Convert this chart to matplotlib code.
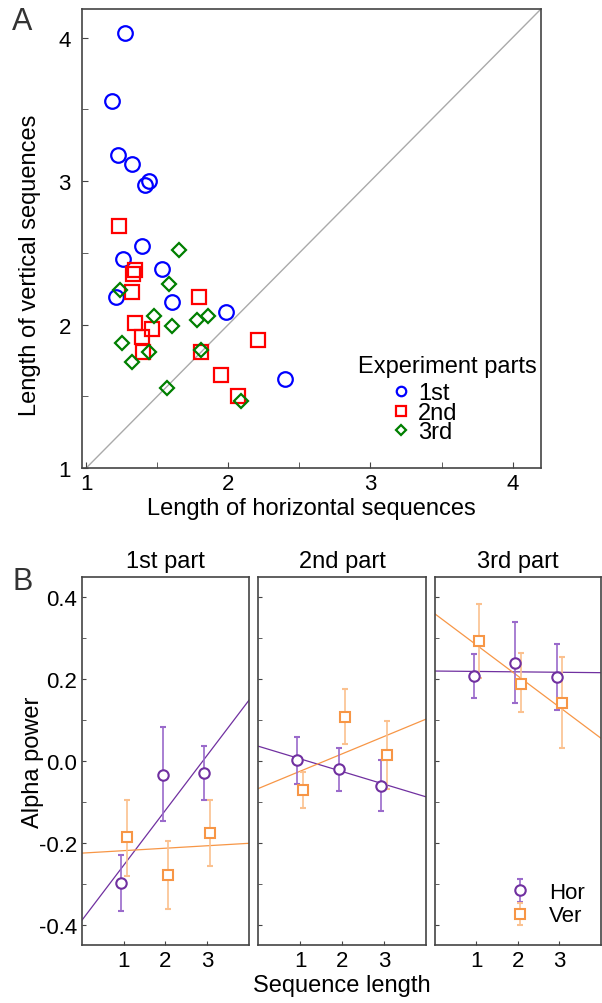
import numpy as np
import matplotlib
matplotlib.use('Agg')
import matplotlib.pyplot as plt

plt.rcParams['font.family'] = ['Liberation Sans', 'DejaVu Sans']

# ---- panel A: mean sequence lengths ----
hor_1st = [1.27, 1.18, 1.22, 1.32, 1.44, 1.41, 1.39, 1.26, 1.53, 1.21, 1.60, 1.98, 2.40]
ver_1st = [4.03, 3.56, 3.18, 3.12, 3.00, 2.97, 2.55, 2.46, 2.39, 2.19, 2.16, 2.09, 1.62]
hor_2nd = [1.23, 1.34, 1.33, 1.32, 1.79, 1.34, 1.46, 1.39, 1.40, 1.81, 2.21, 1.95, 2.07]
ver_2nd = [2.69, 2.38, 2.35, 2.23, 2.19, 2.01, 1.97, 1.91, 1.81, 1.81, 1.89, 1.65, 1.50]
hor_3rd = [1.65, 1.58, 1.24, 1.48, 1.60, 1.78, 1.86, 1.25, 1.44, 1.32, 1.81, 1.57, 2.09]
ver_3rd = [2.52, 2.28, 2.24, 2.06, 1.99, 2.03, 2.06, 1.87, 1.81, 1.74, 1.82, 1.56, 1.47]

# ---- panel B: alpha power ----
seq_len = np.array([1, 2, 3])
part_titles = ['1st part', '2nd part', '3rd part']
hor_mean = [[-0.298, -0.034, -0.029], [0.002, -0.019, -0.060], [0.208, 0.240, 0.206]]
hor_hi = [[-0.230, 0.082, 0.036], [0.058, 0.032, 0.002], [0.262, 0.339, 0.286]]
hor_lo = [[-0.368, -0.148, -0.095], [-0.056, -0.073, -0.122], [0.153, 0.141, 0.124]]
ver_mean = [[-0.187, -0.278, -0.175], [-0.070, 0.107, 0.015], [0.293, 0.189, 0.141]]
ver_hi = [[-0.095, -0.196, -0.095], [-0.027, 0.175, 0.099], [0.383, 0.264, 0.255]]
ver_lo = [[-0.282, -0.361, -0.257], [-0.114, 0.041, -0.068], [0.204, 0.119, 0.032]]

purple = '#7030a0'
purple_err = '#9a6acb'
orange = '#f79646'
orange_err = '#fbc18f'
spine_col = '#444444'

fig = plt.figure(figsize=(6.02, 10.04), dpi=100)

# panel A
ax = fig.add_axes([0.1362, 0.5329, 0.7625, 0.4572])
ax.axline((1, 1), slope=1, color='#aaaaaa', lw=1, zorder=1)
ax.plot(hor_1st, ver_1st, 'o', ms=10.5, mfc='none', mec='#0000ff', mew=1.6, label='1st', zorder=3)
ax.plot(hor_2nd, ver_2nd, 's', ms=10.5, mfc='none', mec='#ff0000', mew=1.6, label='2nd', zorder=3)
ax.plot(hor_3rd, ver_3rd, 'D', ms=7.5, mfc='none', mec='#007f00', mew=1.6, label='3rd', zorder=3)
ax.set_xlim(0.97, 4.2)
ax.set_ylim(1.0, 4.2)
ax.set_xticks([1, 2, 3, 4])
ax.set_yticks([1, 2, 3, 4])
ax.set_xticks(np.arange(1.5, 4.5, 1), minor=True)
ax.set_yticks(np.arange(1.5, 4.5, 1), minor=True)
ax.tick_params(which='both', direction='in', length=4, labelsize=16, color=spine_col)
ax.tick_params(axis='y', pad=8)
ax.set_xlabel('Length of horizontal sequences', fontsize=17, labelpad=2)
ax.set_ylabel('Length of vertical sequences', fontsize=17)
ax.yaxis.set_label_coords(-0.089, 0.444)
for s in ax.spines.values():
    s.set_color(spine_col)
    s.set_linewidth(1.2)
ax.text(0.601, 0.222, 'Experiment parts', transform=ax.transAxes, fontsize=17, va='center', ha='left')
ax.legend(loc='upper left', bbox_to_anchor=(0.669, 0.187), frameon=False, fontsize=17,
          labelspacing=-0.1, handletextpad=0.23, handlelength=1.0, borderpad=0,
          borderaxespad=0, markerscale=0.65)
fig.text(0.02, 0.978, 'A', fontsize=22, color='#333333', va='center')

# panel B
lefts = [0.1362, 0.4286, 0.7226]
widths = [0.2774, 0.279, 0.2757]
xfit = np.array([0, 4])
for i in range(3):
    axb = fig.add_axes([lefts[i], 0.0578, widths[i], 0.3665])
    hm = np.array(hor_mean[i])
    vm = np.array(ver_mean[i])
    # regression lines
    ph = np.polyfit(seq_len, hm, 1)
    pv = np.polyfit(seq_len, vm, 1)
    axb.plot(xfit, np.polyval(ph, xfit), color=purple, lw=0.9, zorder=2)
    axb.plot(xfit, np.polyval(pv, xfit), color=orange, lw=0.9, zorder=2)
    herr = [hm - np.array(hor_lo[i]), np.array(hor_hi[i]) - hm]
    verr = [vm - np.array(ver_lo[i]), np.array(ver_hi[i]) - vm]
    eh = axb.errorbar(seq_len - 0.07, hm, yerr=herr, fmt='o', ms=7.5, mfc='white', mec=purple,
                      mew=1.5, ecolor=purple_err, elinewidth=1.2, capsize=2, capthick=1, zorder=3,
                      label='Hor')
    ev = axb.errorbar(seq_len + 0.07, vm, yerr=verr, fmt='s', ms=7.5, mfc='white', mec=orange,
                      mew=1.5, ecolor=orange_err, elinewidth=1.2, capsize=2, capthick=1, zorder=3,
                      label='Ver')
    axb.set_xlim(0, 4)
    axb.set_ylim(-0.45, 0.45)
    axb.set_xticks([1, 2, 3])
    axb.set_yticks([-0.4, -0.2, 0.0, 0.2, 0.4])
    axb.set_yticks(np.arange(-0.3, 0.4, 0.2), minor=True)
    axb.tick_params(which='both', direction='in', length=3, labelsize=16, color=spine_col)
    axb.set_title(part_titles[i], fontsize=17, pad=7)
    for s in axb.spines.values():
        s.set_color(spine_col)
        s.set_linewidth(1.2)
    if i == 0:
        axb.set_yticklabels(['-0.4', '-0.2', '0.0', '0.2', '0.4'])
        axb.set_ylabel('Alpha power', fontsize=17, labelpad=-4)
    else:
        axb.set_yticklabels([])
    if i == 1:
        axb.set_xlabel('Sequence length', fontsize=17, labelpad=2)
    if i == 2:
        axb.legend(handles=[eh, ev], loc='lower right', frameon=False, fontsize=16,
                   handlelength=1.6, handletextpad=0.5, labelspacing=0.1,
                   bbox_to_anchor=(0.97, 0.02), borderpad=0)

fig.text(0.02, 0.42, 'B', fontsize=22, color='#333333', va='center')

fig.savefig('out.png', dpi=100)
